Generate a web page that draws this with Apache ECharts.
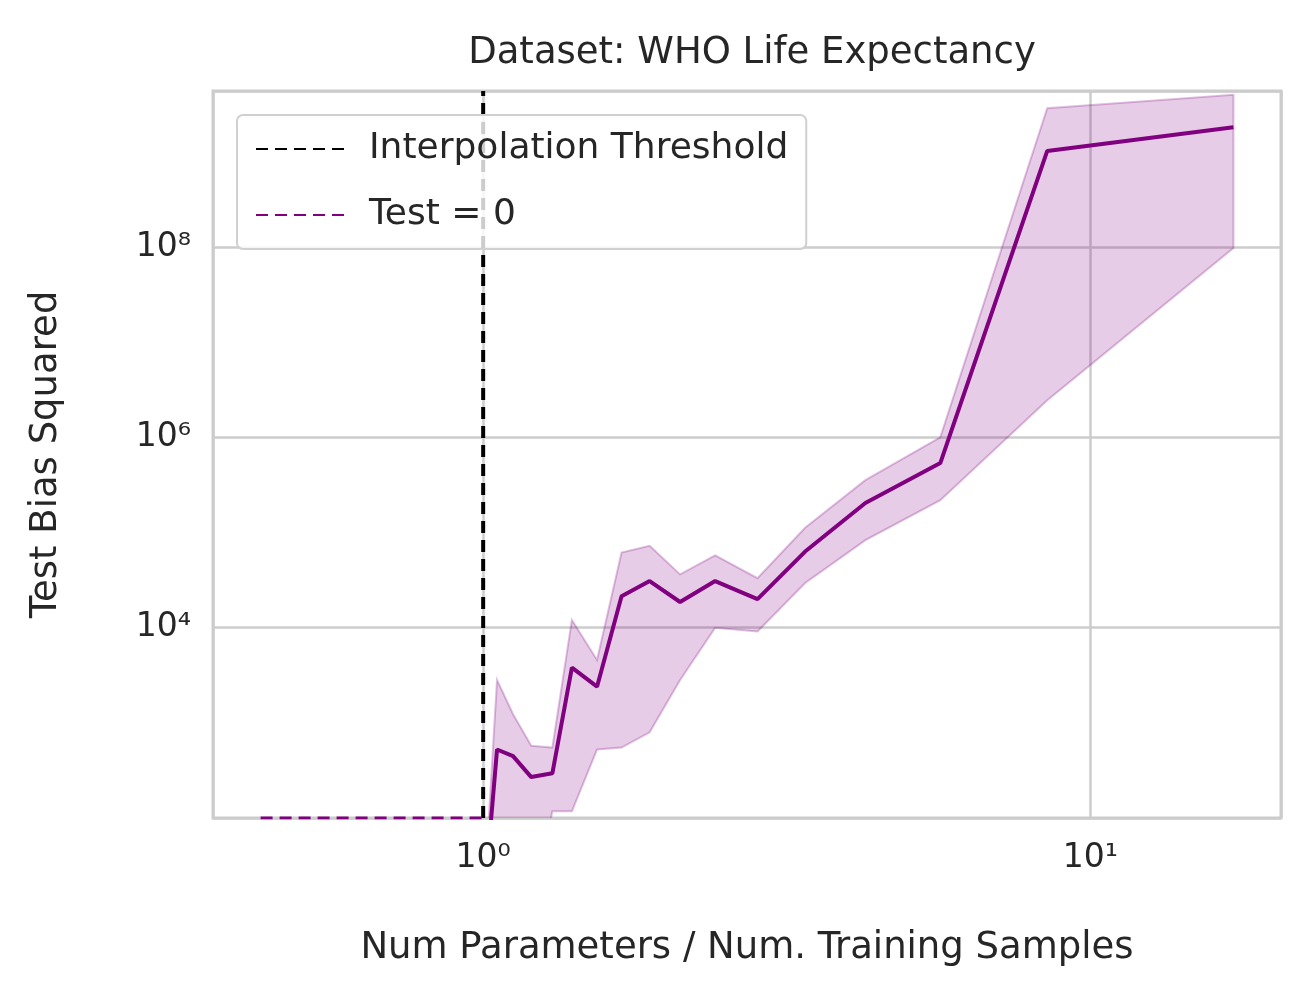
<!DOCTYPE html>
<html lang="en">
<head>
    <meta charset="UTF-8">
    <title>Test Bias Squared</title>
    <script src="https://cdn.jsdelivr.net/npm/echarts@6/dist/echarts.min.js"></script>
</head>
<body style="margin:0;background:#fff;">
<div id="chart" style="width:1310px;height:999px;"></div>
<script>
    // x: ratio of parameters to training samples; y values are log10(bias^2)
    var ratio = [1.0, 1.054, 1.12, 1.20, 1.30, 1.40, 1.54, 1.69, 1.88, 2.11, 2.41, 2.83, 3.39, 4.26, 5.66, 8.49, 17.2];
    var meanLog = [1.0, 2.72, 2.65, 2.43, 2.47, 3.58, 3.38, 4.33, 4.49, 4.27, 4.49, 4.30, 4.80, 5.31, 5.73, 9.01, 9.26];
    var upperLog = [1.0, 3.45, 3.09, 2.76, 2.74, 4.08, 3.66, 4.79, 4.86, 4.56, 4.76, 4.52, 5.05, 5.55, 6.00, 9.46, 9.60];
    var lowerLog = [1.0, 1.0, 1.0, 1.0, 2.07, 2.07, 2.72, 2.74, 2.90, 3.45, 4.00, 3.96, 4.47, 4.92, 5.34, 6.39, 7.99];
    var zeroRatio = [0.43, 1.0];
    var yTicks = [4, 6, 8];

    var sup = {'0':'⁰','1':'¹','2':'²','3':'³','4':'⁴','5':'⁵','6':'⁶','7':'⁷','8':'⁸','9':'⁹','-':'⁻'};
    function pow10(n) {
        return '10' + String(n).split('').map(function (c) { return sup[c]; }).join('');
    }

    var yMin = 2, yMax = 9.64;
    var font = 'DejaVu Sans';

    var meanData = ratio.map(function (r, i) { return [r, meanLog[i]]; });
    var bandData = ratio.map(function (r, i) { return [r, lowerLog[i], upperLog[i]]; });

    var myChart = echarts.init(document.getElementById('chart'));
    var option = {
        backgroundColor: '#fff',
        animation: false,
        textStyle: {fontFamily: font, color: '#262626'},
        title: {
            text: 'Dataset: WHO Life Expectancy',
            left: 747, top: 30, textAlign: 'center',
            textStyle: {fontFamily: font, fontSize: 37, fontWeight: 'normal', color: '#262626'}
        },
        grid: {left: 213, right: 29, top: 91, bottom: 181, show: true,
            borderColor: '#cccccc', borderWidth: 3, backgroundColor: '#fff'},
        legend: {
            left: 237, top: 115, orient: 'vertical', itemGap: 30,
            itemWidth: 90, itemHeight: 38,
            padding: [16, 18, 16, 18],
            borderColor: '#d0d0d0', borderWidth: 2, borderRadius: 6,
            backgroundColor: 'rgba(255,255,255,0.8)',
            itemStyle: {opacity: 0},
            textStyle: {fontFamily: font, fontSize: 36, color: '#262626', padding: [0, 0, 0, 18]},
            data: ['Interpolation Threshold', 'Test = 0']
        },
        xAxis: {
            type: 'log', logBase: 10, min: 0.359, max: 20.6,
            name: 'Num Parameters / Num. Training Samples',
            nameLocation: 'middle', nameGap: 112,
            nameTextStyle: {fontFamily: font, fontSize: 37, color: '#262626'},
            axisLine: {show: false}, axisTick: {show: false},
            axisLabel: {fontSize: 33, color: '#262626', margin: 24,
                showMinLabel: false, showMaxLabel: false,
                formatter: function (v) { return pow10(Math.round(Math.log10(v))); }},
            splitLine: {show: true, lineStyle: {color: '#cccccc', width: 2.5}}
        },
        yAxis: {
            type: 'value', min: yMin, max: yMax, interval: 2,
            name: 'Test Bias Squared', nameLocation: 'middle', nameGap: 148,
            nameTextStyle: {fontFamily: font, fontSize: 37, color: '#262626'},
            axisLine: {show: false}, axisTick: {show: false},
            axisLabel: {fontSize: 33, color: '#262626', margin: 22,
                formatter: function (v) { return yTicks.indexOf(v) >= 0 ? pow10(v) : ''; }},
            splitLine: {show: true, lineStyle: {color: '#cccccc', width: 2.5}}
        },
        series: [
            {
                name: 'band', type: 'custom', data: bandData, clip: true, silent: true,
                renderItem: function (params, api) {
                    if (params.dataIndex !== 0) return;
                    var top = [], bot = [];
                    for (var i = 0; i < bandData.length; i++) {
                        top.push(api.coord([bandData[i][0], bandData[i][2]]));
                        bot.push(api.coord([bandData[i][0], bandData[i][1]]));
                    }
                    var pts = top.concat(bot.reverse());
                    return {
                        type: 'polygon', shape: {points: pts},
                        style: {fill: 'rgba(128,0,128,0.2)', stroke: 'rgba(128,0,128,0.25)', lineWidth: 2}
                    };
                },
                encode: {x: 0, y: [1, 2]}
            },
            {name: 'mean', type: 'line', data: meanData, symbol: 'none',
                lineStyle: {color: '#800080', width: 4}},
            {name: 'Interpolation Threshold', type: 'line', symbol: 'none',
                data: [[1, yMin], [1, yMax]],
                lineStyle: {color: '#000', width: 4, type: [12, 7]}, itemStyle: {color: '#000'}},
            {name: 'Test = 0', type: 'line', symbol: 'none',
                data: zeroRatio.map(function (r) { return [r, yMin]; }),
                lineStyle: {color: '#800080', width: 3, type: [12, 7]}, itemStyle: {color: '#800080'}}
        ]
    };
    myChart.setOption(option);
</script>
</body>
</html>
